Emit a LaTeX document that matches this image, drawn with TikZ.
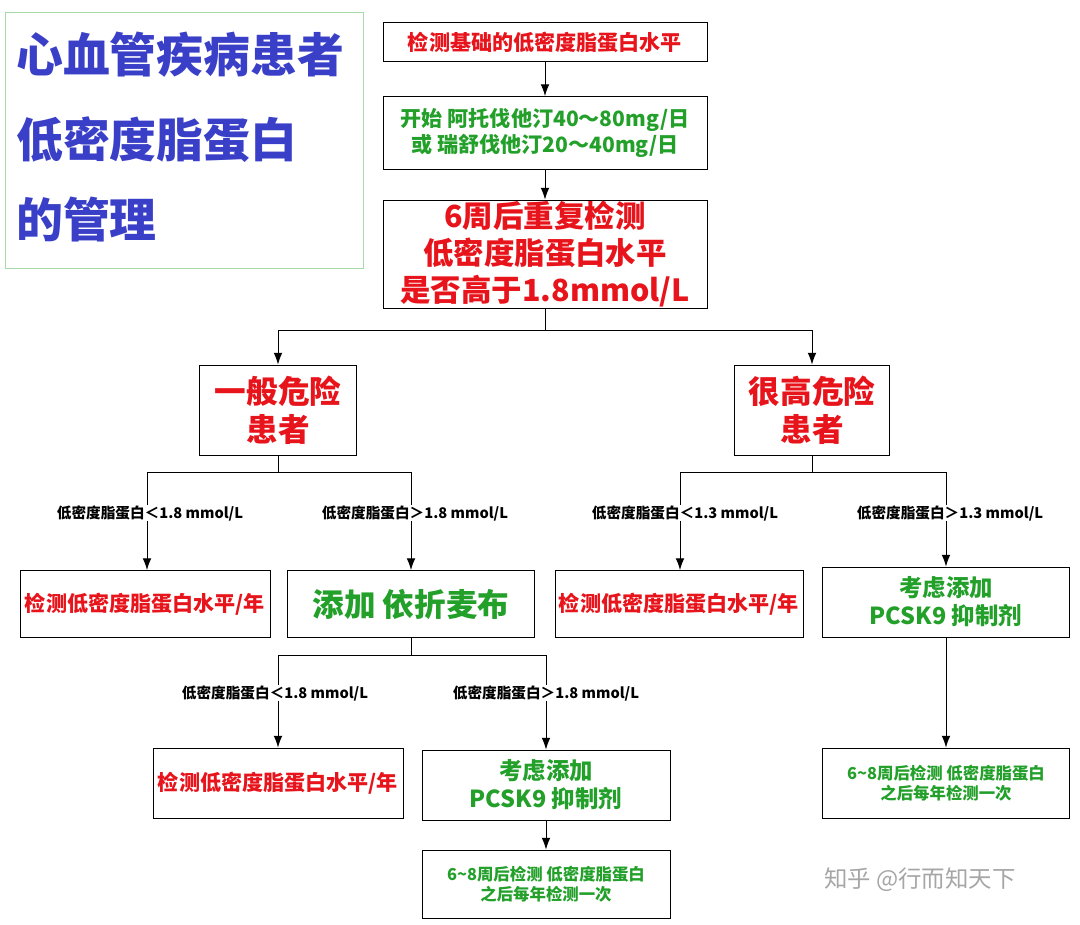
\documentclass[tikz,border=0pt]{standalone}
\usepackage{fontspec}
\setmainfont{Noto Sans CJK SC}
\usetikzlibrary{positioning,arrows.meta}
\definecolor{hred}{HTML}{E8141C}
\definecolor{hgreen}{HTML}{23A02A}
\definecolor{hblue}{HTML}{3A3FC8}
\newcommand{\fs}[1]{\fontsize{#1}{1.2\dimexpr#1\relax}\selectfont}
\tikzset{
  box/.style={draw=black,thick,fill=white,align=center,inner sep=0pt,font=\bfseries},
  lbl/.style={font=\fs{12.5pt}\bfseries,text=black,inner sep=0pt},
  arr/.style={-{Latex[length=3.5mm,width=2.6mm]},thick},
  ln/.style={thick}
}
\begin{document}
\begin{tikzpicture}[x=0.03cm,y=-0.03cm]
\useasboundingbox (0,0) rectangle (1080,925);
% title
\draw[draw=hgreen!40,thick] (5,12) rectangle (363,268);
\node[anchor=west,text=hblue,font=\fs{40pt}\bfseries] (t1) at (12,55) {心血管疾病患者};
\node[anchor=west,text=hblue,font=\fs{40pt}\bfseries] (t2) at (12,140) {低密度脂蛋白};
\node[anchor=west,text=hblue,font=\fs{40pt}\bfseries] (t3) at (12,220) {的管理};
% main column
\node[box,minimum width=324*0.03cm,minimum height=39*0.03cm,text=hred,font=\fs{18pt}\bfseries] (base) at (545,42) {检测基础的低密度脂蛋白水平};
\node[box,minimum width=324*0.03cm,minimum height=73*0.03cm,text=hgreen,font=\fs{18pt}\bfseries] (drug) at (545,133) {开始 阿托伐他汀40～80mg/日\\或 瑞舒伐他汀20～40mg/日};
\node[box,minimum width=324*0.03cm,minimum height=108*0.03cm,text=hred,font=\fs{26pt}\bfseries] (recheck) at (545,254) {6周后重复检测\\低密度脂蛋白水平\\是否高于1.8mmol/L};
\draw[arr] (base) -- (drug);
\draw[arr] (drug) -- (recheck);
% risk
\node[box,minimum width=157*0.03cm,minimum height=90*0.03cm,text=hred,font=\fs{27pt}\bfseries] (low) at (278,410) {一般危险\\患者};
\node[box,minimum width=155*0.03cm,minimum height=90*0.03cm,text=hred,font=\fs{27pt}\bfseries] (high) at (812,410) {很高危险\\患者};
\coordinate (s0) at (545,330);
\draw[ln] (recheck) -- (s0);
\draw[ln] (278,330) -- (812,330);
\draw[arr] (278,330) -- (low);
\draw[arr] (812,330) -- (high);
% low risk branch
\node[box,minimum width=250*0.03cm,minimum height=67*0.03cm,text=hred,font=\fs{18pt}\bfseries] (l1) at (145,604) {检测低密度脂蛋白水平/年};
\node[box,minimum width=247*0.03cm,minimum height=67*0.03cm,text=hgreen,font=\fs{27pt}\bfseries] (l2) at (411,604) {添加 依折麦布};
\draw[ln] (low) -- (278,472);
\draw[ln] (147,472) -- (411,472);
\node[lbl] (ll1) at (150,513) {低密度脂蛋白＜1.8 mmol/L};
\node[lbl] (ll2) at (415,513) {低密度脂蛋白＞1.8 mmol/L};
\draw[ln] (147,472) -- (ll1.north -| 147,0);
\draw[ln] (411,472) -- (ll2.north -| 411,0);
\draw[arr] (ll1.south -| 147,0) -- (l1.north -| 147,0);
\draw[arr] (ll2.south -| 411,0) -- (l2);
% high risk branch
\node[box,minimum width=248*0.03cm,minimum height=67*0.03cm,text=hred,font=\fs{18pt}\bfseries] (h1) at (679,604) {检测低密度脂蛋白水平/年};
\node[box,minimum width=247*0.03cm,minimum height=70*0.03cm,text=hgreen,font=\fs{20pt}\bfseries] (h2) at (946,602) {考虑添加\\PCSK9 抑制剂};
\draw[ln] (high) -- (812,472);
\draw[ln] (680,472) -- (946,472);
\node[lbl] (hl1) at (685,513) {低密度脂蛋白＜1.3 mmol/L};
\node[lbl] (hl2) at (950,513) {低密度脂蛋白＞1.3 mmol/L};
\draw[ln] (680,472) -- (hl1.north -| 680,0);
\draw[ln] (946,472) -- (hl2.north -| 946,0);
\draw[arr] (hl1.south -| 680,0) -- (h1.north -| 680,0);
\draw[arr] (hl2.south -| 946,0) -- (h2);
\node[box,minimum width=247*0.03cm,minimum height=70*0.03cm,text=hgreen,font=\fs{14pt}\bfseries] (h3) at (946,783) {6\textasciitilde8周后检测 低密度脂蛋白\\之后每年检测一次};
\draw[arr] (h2) -- (h3);
% second level
\node[box,minimum width=250*0.03cm,minimum height=70*0.03cm,text=hred,font=\fs{18pt}\bfseries] (m1) at (278,783) {检测低密度脂蛋白水平/年};
\node[box,minimum width=248*0.03cm,minimum height=70*0.03cm,text=hgreen,font=\fs{20pt}\bfseries] (m2) at (546,785) {考虑添加\\PCSK9 抑制剂};
\draw[ln] (l2) -- (411,655);
\draw[ln] (278,655) -- (546,655);
\node[lbl] (ml1) at (275,693) {低密度脂蛋白＜1.8 mmol/L};
\node[lbl] (ml2) at (546,693) {低密度脂蛋白＞1.8 mmol/L};
\draw[ln] (278,655) -- (ml1.north -| 278,0);
\draw[ln] (546,655) -- (ml2.north -| 546,0);
\draw[arr] (ml1.south -| 278,0) -- (m1);
\draw[arr] (ml2.south -| 546,0) -- (m2);
\node[box,minimum width=248*0.03cm,minimum height=68*0.03cm,text=hgreen,font=\fs{14pt}\bfseries] (m3) at (546,884) {6\textasciitilde8周后检测 低密度脂蛋白\\之后每年检测一次};
\draw[arr] (m2) -- (m3);
% watermark
\node[text=gray!70,font=\fs{20pt}] (wm) at (920,880) {知乎 @行而知天下};
\end{tikzpicture}
\end{document}
